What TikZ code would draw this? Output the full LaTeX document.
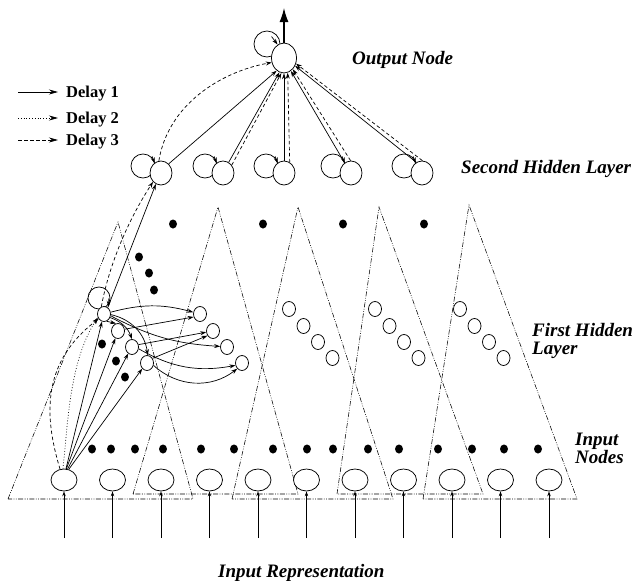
\documentclass[tikz,border=0pt]{standalone}
\usepackage{fontspec}
\setmainfont{Liberation Serif}
\usetikzlibrary{shapes.geometric,arrows.meta,calc}
\begin{document}
\begin{tikzpicture}[x=1pt,y=-1pt,
  every node/.style={inner sep=0pt},
  inp/.style={draw,ellipse,minimum width=26pt,minimum height=22pt,line width=0.75pt,fill=white},
  hone/.style={draw,ellipse,minimum width=13pt,minimum height=15pt,line width=0.75pt,fill=white},
  htwo/.style={draw,ellipse,minimum width=22pt,minimum height=24pt,line width=0.75pt,fill=white},
  outn/.style={draw,ellipse,minimum width=25pt,minimum height=30pt,line width=0.75pt,fill=white},
  bigdot/.style={fill,ellipse,minimum width=8pt,minimum height=9pt},
  tri/.style={line width=0.55pt,dash pattern=on 5pt off 1.5pt on 0.8pt off 1.5pt on 0.8pt off 1.5pt},
  con/.style={line width=0.7pt,-{Stealth[length=6pt,width=4pt]}},
  inarr/.style={line width=0.7pt,-{Stealth[length=5pt,width=3.5pt]}},
  legarr/.style={line width=0.7pt,-{Stealth[length=9pt,width=5pt]}},
  dltwo/.style={dash pattern=on 0.8pt off 2pt},
  dlthree/.style={dash pattern=on 3.5pt off 2.5pt},
  loopc/.style={line width=0.75pt},
  lab/.style={font=\fontsize{19}{21}\selectfont\bfseries\itshape, anchor=base west},
  leg/.style={font=\fontsize{16.5}{18}\selectfont\bfseries, anchor=base west}
]
\useasboundingbox (0,0) rectangle (632,581);

% receptive-field triangles
\draw[tri] (8,499) -- (118,222) -- (193,499) -- cycle;
\draw[tri] (133,494) -- (218,207) -- (298,494) -- cycle;
\draw[tri] (232,499) -- (298,207) -- (393,499) -- cycle;
\draw[tri] (337,494) -- (379,207) -- (483,494) -- cycle;
\draw[tri] (423,499) -- (469,205) -- (577,499) -- cycle;

% input nodes and input arrows
\foreach \i in {1,...,11}{
  \pgfmathsetmacro{\xx}{64+48.5*(\i-1)}
  \node[inp] (in\i) at (\xx,480) {};
  \coordinate (ia\i) at (\xx,538);
  \draw[inarr] (ia\i) -- (in\i.south);
}

% dots of the input row
\foreach \x [count=\k] in {92,111,135,163,201,234,273,307,333,368,399,438,472,504,538}
  \node[bigdot] (rd\k) at (\x,449) {};
% dots between hidden layers
\foreach \x [count=\k] in {173,263,343,424}
  \node[bigdot] (sd\k) at (\x,224) {};
\node[bigdot] (ud1) at (139,257) {};
\node[bigdot] (ud2) at (149,273) {};
\node[bigdot] (ud3) at (154,290) {};
\node[bigdot] (ld1) at (102,344) {};
\node[bigdot] (ld2) at (116,361) {};
\node[bigdot] (ld3) at (125,377) {};

% first hidden layer
\draw[loopc] (99,298) circle[radius=11];
\node[hone] (n1) at (104,314) {};
\node[hone] (n2) at (118,331) {};
\node[hone] (n3) at (132,347) {};
\node[hone] (n4) at (147,363) {};
\node[hone] (t1) at (200,314) {};
\node[hone] (t2) at (213,331) {};
\node[hone] (t3) at (227,347) {};
\node[hone] (t4) at (242,363) {};
\foreach \g/\x in {a/289,b/375,c/460}{
  \node[hone] (g\g1) at (\x,309) {};
  \node[hone] (g\g2) at ({\x+14.5},326) {};
  \node[hone] (g\g3) at ({\x+29},342) {};
  \node[hone] (g\g4) at ({\x+43.5},358) {};
}
\coordinate (n1la) at (108.8,298.5);
\coordinate (n1lb) at (108.6,306.8);
\draw[con] (n1la) -- (n1lb);

% second hidden layer with self loops
\foreach \i/\x in {1/161,2/223,3/284,4/351,5/422}{
  \draw[loopc] ({\x-18},166) circle[radius=12];
  \node[htwo] (h\i) at (\x,173) {};
  \coordinate (hla\i) at ({\x-8.8},156.4);
  \coordinate (hlb\i) at ({\x-6.3},163.4);
  \draw[con] (hla\i) -- (hlb\i);
}

% output node
\draw[loopc] (267,44) circle[radius=13];
\node[outn] (out) at (284,58) {};
\coordinate (ola) at (271.5,36.5);
\coordinate (olb) at (277.6,44.6);
\draw[con] (ola) -- (olb);
\coordinate (otop) at (284,8);
\draw[line width=1.3pt,-{Latex[length=14pt,width=9pt]}] (out.north) -- (otop);

% input node 1 to first group
\draw[con] (in1.80) -- (n1.255);
\draw[con] (in1.78) -- (n2.250);
\draw[con] (in1.72) -- (n3.240);
\draw[con] (in1.66) -- (n4.230);
\draw[con,dlthree] (in1.110) .. controls (42,410) and (45,360) .. (n1.222);
\draw[con,dltwo] (in1.95) .. controls (68,420) and (70,360) .. (n1.210);

% first group internal connections
\draw[con] (n1.15) to[bend left=15] (t1.165);
\draw[con] (n1.-70) -- (n2.105);
\draw[con] (n1.-30) to[bend left=25] (n3.90);
\draw[con] (n1.-5) to[bend left=35] (n4.85);
\draw[con] (n2.15) -- (t1.205);
\draw[con] (n1.-15) to[bend right=12] (t3.175);
\draw[con] (n3.20) -- (t2.190);
\draw[con] (n3.-15) to[bend right=20] (t4.200);
\draw[con] (n4.40) -- (t2.220);
\draw[con] (n4.-20) to[bend right=40] (t4.230);

% first hidden to second hidden
\draw[con] (n1.60) -- (h1.245);
\draw[con,dlthree] (n1.110) .. controls (108,270) and (125,225) .. (h1.228);

% second hidden to output
\draw[con] (h1.50) -- (out.240);
\draw[con,dlthree] (h1.100) .. controls (168,105) and (220,72) .. (out.200);
\draw[con] (h2.62) -- (out.252);
\draw[con,dlthree] (h2.42) -- (out.260);
\draw[con] (h3.90) -- (out.270);
\draw[con,dlthree] (h3.62) -- (out.284);
\draw[con] (h4.122) -- (out.298);
\draw[con,dlthree] (h4.92) -- (out.308);
\draw[con] (h5.118) -- (out.325);
\draw[con,dlthree] (h5.88) -- (out.335);

% legend
\coordinate (la1) at (18,92);  \coordinate (lb1) at (58,92);
\coordinate (la2) at (18,118); \coordinate (lb2) at (58,118);
\coordinate (la3) at (18,140); \coordinate (lb3) at (58,140);
\draw[legarr] (la1) -- (lb1);
\draw[legarr,dltwo] (la2) -- (lb2);
\draw[legarr,dlthree] (la3) -- (lb3);
\node[leg] (dly1) at (66,97) {Delay 1};
\node[leg] (dly2) at (66,123) {Delay 2};
\node[leg] (dly3) at (66,145) {Delay 3};

% labels
\node[lab] (lout) at (352,64) {Output Node};
\node[lab] (lsec) at (461,173) {Second Hidden Layer};
\node[lab] (lfir) at (532,336) {First Hidden};
\node[lab] (lfir2) at (532,354) {Layer};
\node[lab] (linp) at (575,445) {Input};
\node[lab] (linp2) at (575,463) {Nodes};
\node[lab] (lrep) at (218,577) {Input Representation};
\end{tikzpicture}
\end{document}
